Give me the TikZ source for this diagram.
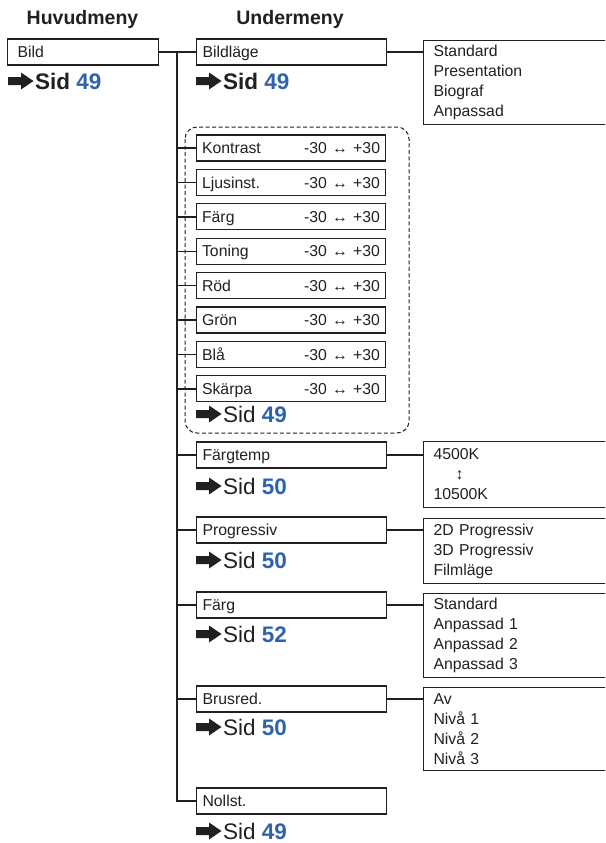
\documentclass[tikz,border=0pt]{standalone}
\usepackage{fontspec}
\setmainfont{Liberation Sans}
\usetikzlibrary{calc}
\definecolor{ink}{HTML}{231F20}
\definecolor{pgblue}{HTML}{2F62AE}
\newcommand{\pgnum}[1]{\textbf{\color{pgblue}#1}}
\begin{document}
\begin{tikzpicture}[x=1pt,y=-1pt,
 every node/.style={text=ink},
 mbox/.style={draw=ink, line width=1.1pt, minimum height=26pt, inner xsep=6pt, inner ysep=0pt, text height=11.4pt, text depth=0pt, align=left, font=\fontsize{15.8}{20}\selectfont, anchor=west},
 sub/.style={mbox, text width=178pt},
 valbox/.style={draw=ink, line width=1.1pt, anchor=north west, text width=260pt, inner xsep=10pt, inner ysep=0pt, align=left, font=\fontsize{15.8}{20}\selectfont},
 head/.style={font=\fontsize{19.5}{22}\selectfont\bfseries},
 sid/.style={anchor=west, inner sep=0pt, font=\fontsize{22.5}{24}\selectfont},
 trunk/.style={draw=ink, line width=1.7pt},
 link/.style={draw=ink, line width=1.4pt},
 pics/sidarrow/.style={code={\fill[ink] (0,-4) -- (13,-4) -- (13,-8.5) -- (25.5,0) -- (13,8.5) -- (13,4) -- (0,4) -- cycle;}}
]
\useasboundingbox (0,0) rectangle (605,843);
\begin{scope}
\clip (0,0) rectangle (605,843);

\node[head] (hhead) at (82.5,19) {Huvudmeny};
\node[head] (uhead) at (290,19) {Undermeny};

% main menu
\node[mbox, text width=131pt, inner xsep=10pt] (bild) at (7,52) {Bild};
\pic at (8,81) {sidarrow};
\node[sid] (sid0) at (35,81) {\textbf{Sid} \pgnum{49}};

% trunk
\coordinate (tr) at (177,52);

% Bildläge
\node[sub] (bildlage) at (196,52) {Bildläge};
\pic at (196,81) {sidarrow};
\node[sid] (sid1) at (223,81) {\textbf{Sid} \pgnum{49}};
\node[valbox, minimum height=84pt] (v1) at (423,40) {Standard\\Presentation\\Biograf\\Anpassad};
\draw[link] (bildlage.east) -- (bildlage.east -| v1.west);

% group
\draw[ink, line width=1pt, dash pattern=on 4pt off 2.5pt, rounded corners=12pt] (185,127) rectangle (409,433);
\foreach \nm/\lb/\yy in {kontrast/Kontrast/148, ljus/Ljusinst./182.4, farg/Färg/216.8, toning/Toning/251.2, rod/Röd/285.6, gron/Grön/320, bla/Blå/354.4, skarpa/Skärpa/388.8}{
  \node[sub, inner xsep=5.5pt] (\nm) at (196,\yy) {\lb\hfill -30 ↔ +30};
  \draw[link] (tr |- \nm.west) -- (\nm.west);
}
\pic at (196,414) {sidarrow};
\node[sid] (sid2) at (223,414) {Sid \pgnum{49}};

% Färgtemp
\node[sub] (fargtemp) at (196,455) {Färgtemp};
\draw[link] (tr |- fargtemp.west) -- (fargtemp.west);
\pic at (196,486) {sidarrow};
\node[sid] (sid3) at (223,486) {Sid \pgnum{50}};
\node[valbox, minimum height=66pt] (v2) at (423,441) {4500K\\\hspace*{22pt}↕\\10500K};
\draw[link] (fargtemp.east) -- (fargtemp.east -| v2.west);

% Progressiv
\node[sub] (prog) at (196,530) {Progressiv};
\draw[link] (tr |- prog.west) -- (prog.west);
\pic at (196,560) {sidarrow};
\node[sid] (sid4) at (223,560) {Sid \pgnum{50}};
\node[valbox, minimum height=65pt] (v3) at (423,518) {2D Progressiv\\3D Progressiv\\Filmläge};
\draw[link] (prog.east) -- (prog.east -| v3.west);

% Färg
\node[sub] (farg2) at (196,605) {Färg};
\draw[link] (tr |- farg2.west) -- (farg2.west);
\pic at (196,634) {sidarrow};
\node[sid] (sid5) at (223,634) {Sid \pgnum{52}};
\node[valbox, minimum height=84pt] (v4) at (423,593) {Standard\\Anpassad 1\\Anpassad 2\\Anpassad 3};
\draw[link] (farg2.east) -- (farg2.east -| v4.west);

% Brusred.
\node[sub] (brus) at (196,699) {Brusred.};
\draw[link] (tr |- brus.west) -- (brus.west);
\pic at (196,727) {sidarrow};
\node[sid] (sid6) at (223,727) {Sid \pgnum{50}};
\node[valbox, minimum height=83pt] (v5) at (423,687) {Av\\Nivå 1\\Nivå 2\\Nivå 3};
\draw[link] (brus.east) -- (brus.east -| v5.west);

% Nollst.
\node[sub] (noll) at (196,801) {Nollst.};
\pic at (196,831) {sidarrow};
\node[sid] (sid7) at (223,831) {Sid \pgnum{49}};

\draw[trunk] (bild.east) -- (bildlage.west);
\draw[trunk] (tr) |- (noll.west);
\end{scope}
\end{tikzpicture}
\end{document}
